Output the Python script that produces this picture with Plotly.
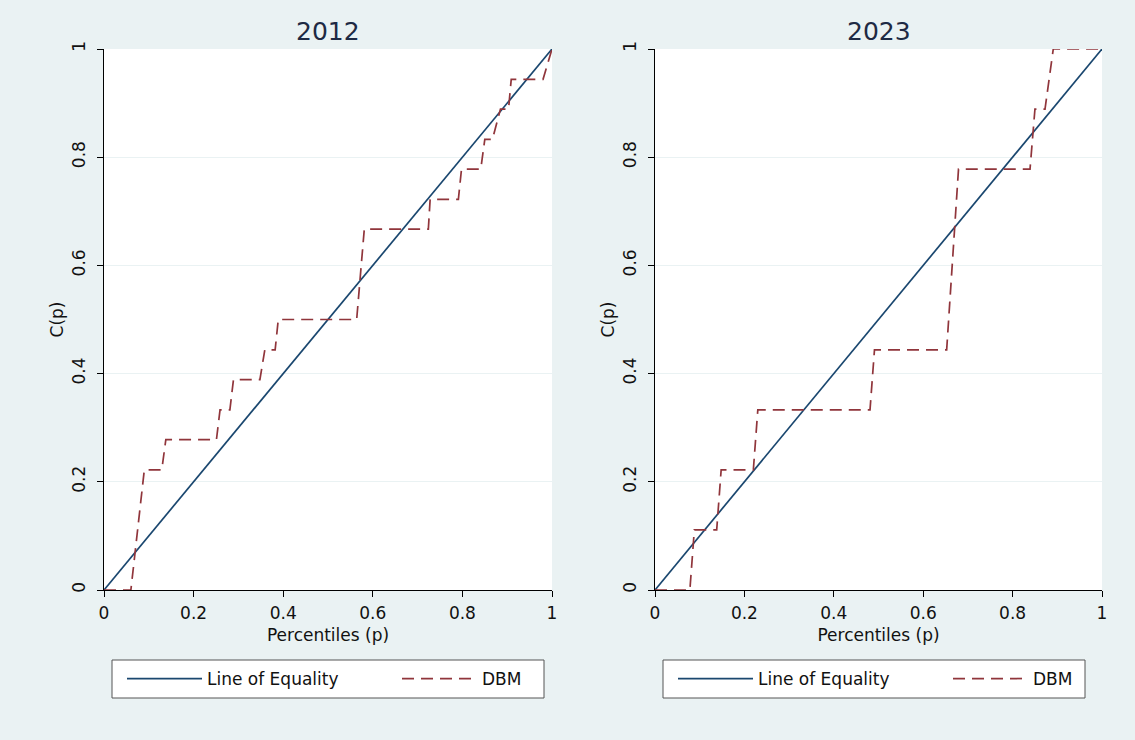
import plotly.graph_objects as go

# ---- data ----
titles = ["2012", "2023"]
equality_p = [0, 1]
equality_c = [0, 1]

p_2012 = [0, 0.060, 0.090, 0.129, 0.138, 0.251, 0.259, 0.281, 0.289, 0.348, 0.359,
          0.382, 0.389, 0.564, 0.581, 0.724, 0.728, 0.791, 0.798, 0.841, 0.850,
          0.867, 0.885, 0.903, 0.909, 0.980, 1.0]
c_2012 = [0, 0, 0.222, 0.222, 0.278, 0.278, 0.333, 0.333, 0.389, 0.389, 0.444,
          0.444, 0.5, 0.5, 0.667, 0.667, 0.722, 0.722, 0.778, 0.778, 0.833,
          0.833, 0.889, 0.889, 0.944, 0.944, 1.0]

p_2023 = [0, 0.078, 0.088, 0.138, 0.148, 0.220, 0.230, 0.481, 0.491, 0.6525,
          0.679, 0.839, 0.850, 0.8725, 0.891, 1.0]
c_2023 = [0, 0, 0.111, 0.111, 0.222, 0.222, 0.333, 0.333, 0.444, 0.444,
          0.778, 0.778, 0.889, 0.889, 1.0, 1.0]

tick_vals = [0, 0.2, 0.4, 0.6, 0.8, 1]
tick_text = ["0", "0.2", "0.4", "0.6", "0.8", "1"]

# ---- style ----
W, H = 1135, 740
BG = "#eaf2f3"
NAVY = "#1a476f"
MAROON = "#90353b"
FONT = "DejaVu Sans, Liberation Sans, Arial, sans-serif"
TXT = "#111111"

def px_x(v):
    return v / W

def px_y(v):
    return 1 - v / H

fig = go.Figure()

panels = [
    (p_2012, c_2012, "x", "y", "legend"),
    (p_2023, c_2023, "x2", "y2", "legend2"),
]
for p, c, xa, ya, lg in panels:
    fig.add_trace(go.Scatter(x=equality_p, y=equality_c, mode="lines",
                             line=dict(color=NAVY, width=1.7),
                             name="Line of Equality", xaxis=xa, yaxis=ya,
                             legend=lg, hoverinfo="skip"))
    fig.add_trace(go.Scatter(x=p, y=c, mode="lines",
                             line=dict(color=MAROON, width=1.7, dash="12px,7px"),
                             name="DBM", xaxis=xa, yaxis=ya,
                             legend=lg, hoverinfo="skip"))

ydom = [px_y(590), px_y(49)]
xdoms = [[px_x(104), px_x(552)], [px_x(655), px_x(1102)]]

axis_common = dict(
    range=[0, 1], tickvals=tick_vals, ticktext=tick_text,
    ticks="outside", ticklen=6, tickcolor="#000", tickwidth=1,
    showline=True, linecolor="#000", linewidth=1,
    tickfont=dict(family=FONT, size=17, color=TXT),
    zeroline=False, fixedrange=True,
)

layout = dict(
    width=W, height=H,
    paper_bgcolor=BG, plot_bgcolor="white",
    margin=dict(l=0, r=0, t=0, b=0, autoexpand=False),
    font=dict(family=FONT, color=TXT),
)
for xd, suffix in zip(xdoms, ["", "2"]):
    layout["xaxis" + suffix] = dict(
        axis_common, domain=xd, showgrid=False,
        anchor="y" + suffix, ticklabelstandoff=2,
        title=dict(text="Percentiles (p)", font=dict(family=FONT, size=17, color=TXT), standoff=6),
    )
    layout["yaxis" + suffix] = dict(
        axis_common, domain=ydom, showgrid=True, gridcolor=BG, gridwidth=1,
        tickangle=-90, anchor="x" + suffix, ticklabelstandoff=5,
        title=dict(text="C(p)", font=dict(family=FONT, size=17, color=TXT), standoff=1),
    )

leg_common = dict(
    orientation="h", yanchor="middle", xanchor="left",
    bgcolor="rgba(0,0,0,0)", borderwidth=0,
    font=dict(family=FONT, size=17, color=TXT),
    itemwidth=75,
    entrywidth=185, entrywidthmode="pixels", traceorder="normal",
)
layout["legend"] = dict(leg_common, x=px_x(122), y=px_y(679))
layout["legend2"] = dict(leg_common, x=px_x(673), y=px_y(679))

fig.update_layout(**layout)

# legend frames
for x0, x1 in [(112, 544), (663, 1085)]:
    fig.add_shape(type="rect", xref="paper", yref="paper",
                  x0=px_x(x0), x1=px_x(x1), y0=px_y(698), y1=px_y(660),
                  fillcolor="white", line=dict(color="#555555", width=1), layer="below")

# panel titles
for t, xd in zip(titles, xdoms):
    fig.add_annotation(text=t, xref="paper", yref="paper",
                       x=(xd[0] + xd[1]) / 2, y=px_y(31), showarrow=False,
                       xanchor="center", yanchor="middle",
                       font=dict(family=FONT, size=25, color="#1e2a44"))

fig.write_html("out.html", config={"displayModeBar": False},
               post_script="document.body.style.margin='0';document.body.style.overflow='hidden';")
